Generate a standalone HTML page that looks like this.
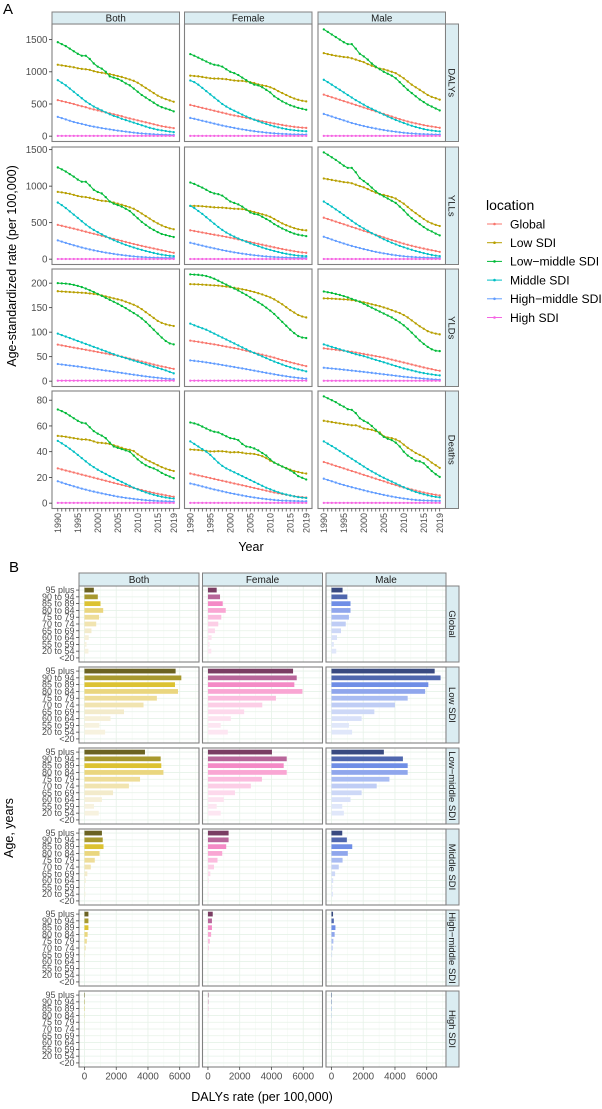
<!DOCTYPE html>
<html><head><meta charset="utf-8"><style>
html,body{margin:0;padding:0;background:#fff;}
svg{display:block;font-family:"Liberation Sans",Arial,sans-serif;}
</style></head><body>
<svg id="chart" xmlns="http://www.w3.org/2000/svg" width="602" height="1109" viewBox="0 0 602 1109">
<rect x="0" y="0" width="602" height="1109" fill="#fff"/>
<text x="3" y="14" font-size="15" fill="#000">A</text>
<text x="9" y="572" font-size="15" fill="#000">B</text>
<text transform="translate(16,266) rotate(-90)" text-anchor="middle" font-size="12.5" fill="#000">Age-standardized rate (per 100,000)</text>
<text x="251" y="551" text-anchor="middle" font-size="12.5" fill="#000">Year</text>
<text transform="translate(13,828) rotate(-90)" text-anchor="middle" font-size="12.5" fill="#000">Age, years</text>
<text x="262" y="1101" text-anchor="middle" font-size="12.5" fill="#000">DALYs rate (per 100,000)</text>
<g id="gA"></g><g id="gB"></g><g id="legend"></g>
</svg>
<script>
const years = [1990,1991,1992,1993,1994,1995,1996,1997,1998,1999,2000,2001,2002,2003,2004,2005,2006,2007,2008,2009,2010,2011,2012,2013,2014,2015,2016,2017,2018,2019];
const locations = ['Global','Low SDI','Low\u2212middle SDI','Middle SDI','High\u2212middle SDI','High SDI'];
const sexes = ['Both','Female','Male'];
const measures = ['DALYs','YLLs','YLDs','Deaths'];
const yTickLabels = [[0,500,1000,1500],[0,500,1000,1500],[0,50,100,150,200],[0,20,40,60,80]];
const yearTickLabels = [1990,1995,2000,2005,2010,2015,2019];

// DALYs
const DALYs_Both_Global = [560,545,530,515,500,480,465,450,430,415,400,385,370,355,340,325,310,290,275,260,245,230,215,200,185,170,155,145,135,125];
const DALYs_Both_Low = [1110,1100,1090,1080,1070,1055,1045,1040,1030,1010,995,985,975,965,950,935,920,900,880,860,830,790,750,710,670,630,600,575,555,535];
const DALYs_Both_LowMid = [1460,1430,1400,1360,1320,1280,1250,1250,1200,1130,1080,1050,1000,930,910,890,860,820,790,740,690,640,600,560,520,480,450,430,410,385];
const DALYs_Both_Mid = [870,830,790,740,690,640,590,540,500,460,430,400,370,340,315,295,270,250,230,210,190,170,150,130,115,100,90,80,70,62];
const DALYs_Both_HighMid = [300,280,260,240,220,205,190,175,160,148,136,125,115,105,95,86,78,70,62,55,48,42,37,33,29,26,24,22,20,18];
const DALYs_Both_High = [5,5,5,5,5,5,5,5,5,5,5,5,5,5,5,5,5,5,5,5,5,5,5,5,5,5,5,5,5,5];
const DALYs_Female_Global = [485,470,455,440,425,410,395,380,365,350,335,322,310,298,285,272,258,245,232,220,208,196,185,174,163,153,145,138,132,128];
const DALYs_Female_Low = [940,935,930,920,910,900,895,895,890,885,875,865,860,860,850,840,825,805,790,780,760,735,700,670,640,610,585,565,550,540];
const DALYs_Female_LowMid = [1275,1250,1220,1190,1160,1130,1110,1100,1080,1040,1000,980,950,910,870,830,800,790,760,720,680,620,580,540,510,480,460,440,425,410];
const DALYs_Female_Mid = [865,840,800,750,700,650,600,550,500,460,425,395,365,335,305,280,255,232,210,190,170,152,136,122,110,100,92,85,80,76];
const DALYs_Female_HighMid = [283,270,255,240,225,210,195,180,165,152,140,128,116,105,95,86,77,69,62,55,49,44,40,36,33,30,28,27,26,25];
const DALYs_Female_High = [4,4,4,4,4,4,4,4,4,4,4,4,4,4,4,4,4,4,4,4,4,4,4,4,4,4,4,4,4,4];
const DALYs_Male_Global = [645,625,605,585,565,545,525,505,485,465,445,425,405,385,365,345,325,305,285,265,245,228,212,198,185,172,160,150,140,130];
const DALYs_Male_Low = [1290,1275,1262,1250,1240,1230,1225,1210,1190,1170,1150,1120,1095,1070,1050,1040,1020,1000,980,940,900,850,800,760,720,680,640,610,590,567];
const DALYs_Male_LowMid = [1660,1620,1580,1540,1500,1460,1430,1430,1360,1280,1240,1190,1130,1080,1040,1000,970,940,900,840,780,720,670,620,570,530,490,460,430,400];
const DALYs_Male_Mid = [876,840,800,760,720,680,640,600,560,525,490,455,425,395,365,335,305,278,252,228,205,182,162,143,126,110,98,88,80,74];
const DALYs_Male_HighMid = [345,325,305,285,265,245,225,205,188,172,157,143,130,118,106,95,85,76,68,60,53,47,42,38,34,31,29,27,26,25];
const DALYs_Male_High = [5,5,5,5,5,5,5,5,5,5,5,5,5,5,5,5,5,5,5,5,5,5,5,5,5,5,5,5,5,5];
// YLLs
const YLLs_Both_Global = [470,457,444,431,418,404,390,376,362,348,334,320,306,292,278,264,250,236,222,208,195,182,170,158,146,134,122,110,98,88];
const YLLs_Both_Low = [922,915,905,895,880,865,855,850,840,825,810,800,795,790,775,760,745,728,710,690,660,625,590,555,520,490,462,440,422,410];
const YLLs_Both_LowMid = [1256,1230,1200,1165,1130,1090,1060,1060,1010,950,920,900,850,790,760,740,720,690,660,610,560,510,470,430,400,370,345,330,315,303];
const YLLs_Both_Mid = [775,740,700,655,610,565,520,475,435,400,370,340,312,285,260,238,216,196,177,160,143,127,112,98,85,73,62,53,46,41];
const YLLs_Both_HighMid = [257,240,223,206,190,175,160,146,133,121,110,100,90,81,72,64,57,50,44,38,33,29,26,23,21,20,19,18,18,18];
const YLLs_Both_High = [2,2,2,2,2,2,2,2,2,2,2,2,2,2,2,2,2,2,2,2,2,2,2,2,2,2,2,2,2,2];
const YLLs_Female_Global = [395,385,375,365,355,345,335,325,315,305,295,283,271,259,247,235,222,210,198,186,174,162,150,139,128,118,108,99,92,87];
const YLLs_Female_Low = [730,730,728,725,720,715,710,708,705,700,695,690,688,685,675,660,645,630,615,600,580,550,520,490,465,445,425,410,400,395];
const YLLs_Female_LowMid = [1050,1030,1005,980,950,920,900,890,870,830,790,770,750,720,680,640,620,610,580,550,520,480,450,420,395,370,350,335,325,316];
const YLLs_Female_Mid = [730,700,660,620,575,530,485,440,400,365,335,308,283,260,238,217,197,178,160,143,127,112,98,85,74,64,55,48,44,41];
const YLLs_Female_HighMid = [225,212,198,185,172,160,148,136,124,113,103,93,84,76,68,61,54,48,42,37,33,29,26,24,22,20,19,18,18,18];
const YLLs_Female_High = [2,2,2,2,2,2,2,2,2,2,2,2,2,2,2,2,2,2,2,2,2,2,2,2,2,2,2,2,2,2];
const YLLs_Male_Global = [568,550,532,514,496,478,460,442,424,406,388,370,352,334,316,298,280,262,245,228,212,197,183,170,157,145,133,122,111,100];
const YLLs_Male_Low = [1105,1095,1085,1075,1065,1055,1050,1040,1020,1000,985,960,935,910,890,880,865,850,830,795,760,715,670,630,590,550,515,490,470,454];
const YLLs_Male_LowMid = [1463,1430,1395,1360,1320,1280,1250,1250,1190,1110,1070,1030,980,930,890,860,830,800,770,720,670,610,560,520,480,440,405,380,350,326];
const YLLs_Male_Mid = [789,755,720,682,645,605,565,525,487,452,420,388,357,328,300,273,248,225,203,182,163,145,128,112,97,83,70,58,48,41];
const YLLs_Male_HighMid = [307,288,269,250,232,214,197,181,166,152,138,125,112,100,89,79,70,61,53,46,40,35,31,27,24,22,20,19,18,18];
const YLLs_Male_High = [2,2,2,2,2,2,2,2,2,2,2,2,2,2,2,2,2,2,2,2,2,2,2,2,2,2,2,2,2,2];
// YLDs
const YLDs_Both_Global = [74.5,73,71.5,70,68.5,67,65.5,64,62.5,61,59.5,58,56.5,55,53.5,52,50,48,46,44,42,40,38,36,34,32,30,28.5,26.5,25];
const YLDs_Both_Low = [183.6,183,182.5,182,181.5,181,180.5,180,179,178,177,175,173,171,169,167,165,162,159,156,152,147,141,135,129,123,119,116,114,112.6];
const YLDs_Both_LowMid = [200,199.5,199,198,196.5,194.5,192,189,185.5,182,178,174,170,166,162,158,153.5,149,144,139,134,128,121,113,105,97,89,82,77,75];
const YLDs_Both_Mid = [97,94,91,88,85,82,79,76,73,70,67,64,61,58,55,52,49.5,47,44.5,42,39.5,37,34.5,32,29.5,27,24.5,22,19,16];
const YLDs_Both_HighMid = [35,34,33,32,31,30,28.8,27.6,26.4,25.2,24,22.8,21.6,20.4,19.2,18,16.8,15.6,14.4,13.2,12,10.9,9.8,8.8,7.8,6.9,6,5.2,4.5,4];
const YLDs_Both_High = [1,1,1,1,1,1,1,1,1,1,1,1,1,1,1,1,1,1,1,1,1,1,1,1,1,1,1,1,1,1];
const YLDs_Female_Global = [82.7,81.5,80.3,79,77.7,76.3,75,73.5,72,70.5,69,67.5,66,64,62,60,58,56,54,52,50,48,45.5,43,41,38.5,36.5,34.5,32.5,30.7];
const YLDs_Female_Low = [198,197.8,197.5,197,196.5,196,195.5,195,194,193,192,190.5,189,187.5,186,184,182,179.5,177,174,171,167,162,157,151,145,140,135,132,130];
const YLDs_Female_LowMid = [218,217.5,217,216,214.5,212,209,205,201,197,193,189,185,180.5,176,171,166,161,156,150,144,137,129,121,113,105,98,92,89,88];
const YLDs_Female_Mid = [117.5,114,111,108,105,101,97,93,89,85,81,77,73,69,65,61,57.5,54,50.5,47,43.5,40,37,34,31,28.5,26,24,22,20];
const YLDs_Female_HighMid = [42.4,41.5,40.5,39.5,38.3,37,35.7,34.4,33,31.6,30.2,28.8,27.4,26,24.6,23,21.5,20,18.5,17,15.5,14,12.6,11.2,10,8.8,7.7,6.7,5.8,5];
const YLDs_Female_High = [1,1,1,1,1,1,1,1,1,1,1,1,1,1,1,1,1,1,1,1,1,1,1,1,1,1,1,1,1,1];
const YLDs_Male_Global = [67,66,65,64,63,62,61,60,58.5,57,55.5,54,52.5,51,49.5,48,46,44,42,40,38,36,34,32,30,28,26,24.5,22.5,21.3];
const YLDs_Male_Low = [169,168.8,168.5,168,167.5,167,166.5,165.5,164,162.5,161,159,157,155,153,150.5,148,145,142,139,135,130,124,118,112,107,102,99,97,95.6];
const YLDs_Male_LowMid = [183,181.5,180,178,176,173.5,171,168,165,162,158,154,150,146,142,138,134,130,125,120,114,107,99,91,83,76,70,65,62,61.4];
const YLDs_Male_Mid = [75,72.5,70,67.5,65,62.5,60,57.5,55,53,51,48.5,46,43.5,41,38.5,36,33.5,31,28.5,26,24,22,20,18,16.5,15,13.8,12.6,11.7];
const YLDs_Male_HighMid = [27.4,26.6,25.8,25,24.2,23.4,22.5,21.6,20.7,19.8,18.9,18,17,16,15,14,13,12,11,10,9,8.2,7.4,6.6,5.9,5.2,4.5,3.9,3.4,2.9];
const YLDs_Male_High = [0.8,0.8,0.8,0.8,0.8,0.8,0.8,0.8,0.8,0.8,0.8,0.8,0.8,0.8,0.8,0.8,0.8,0.8,0.8,0.8,0.8,0.8,0.8,0.8,0.8,0.8,0.8,0.8,0.8,0.8];
// Deaths
const Deaths_Both_Global = [27,26.2,25.4,24.6,23.8,23,22.2,21.4,20.6,19.8,19,18.2,17.4,16.6,15.8,15,14.2,13.4,12.6,11.8,11,10.2,9.4,8.7,8,7.3,6.7,6.1,5.5,5];
const Deaths_Both_Low = [52.3,52,51.6,51,50.5,50,49.5,49.5,49,48,47,46.8,46.5,46,45,44,43,42,41.5,40.5,38,36,34,32.5,31,29.5,28,26.8,25.8,25];
const Deaths_Both_LowMid = [72.8,71.5,70,68,66,64,62.5,62,59,56,54,52.5,50.5,47,44,43,42,41,40,37,34,31.5,29.5,28,27,25.5,23.5,22,20.7,19.4];
const Deaths_Both_Mid = [48.4,46.5,44.5,42.3,40,37.5,35,32.5,30,28,26,24.3,22.7,21,19.5,18,16.5,15,13.5,12,10.7,9.5,8.4,7.4,6.5,5.7,5,4.4,3.9,3.6];
const Deaths_Both_HighMid = [17,16,15,14,13.1,12.2,11.3,10.5,9.7,9,8.3,7.6,6.9,6.3,5.7,5.1,4.6,4.1,3.7,3.3,2.9,2.6,2.3,2.1,1.9,1.7,1.6,1.5,1.4,1.3];
const Deaths_Both_High = [0.2,0.2,0.2,0.2,0.2,0.2,0.2,0.2,0.2,0.2,0.2,0.2,0.2,0.2,0.2,0.2,0.2,0.2,0.2,0.2,0.2,0.2,0.2,0.2,0.2,0.2,0.2,0.2,0.2,0.2];
const Deaths_Female_Global = [23,22.3,21.6,20.9,20.2,19.5,18.8,18.1,17.4,16.7,16,15.3,14.6,13.9,13.2,12.5,11.8,11.1,10.4,9.7,9,8.3,7.7,7.1,6.5,5.9,5.4,5,4.7,4.4];
const Deaths_Female_Low = [41.7,41.5,41.3,41,40.6,40.2,40.2,40.4,40.3,40,39.5,39.6,39.6,39.2,38.6,38.5,38.2,37.5,36.5,35,33,31.5,30,28.5,27.3,26,25,24.2,23.5,23];
const Deaths_Female_LowMid = [62.7,62,61,59.5,58,56.5,55.5,55,53.5,52,50.5,50,49,46,44,43.5,42.5,41,39,37,34,31.5,30,28.5,27,25.5,23.5,21,19.7,18.4];
const Deaths_Female_Mid = [48,46,44,42,40,37.5,34.5,31.5,29,27,25.5,24,22.5,21,19.5,18,16.5,15,13.5,12,10.8,9.6,8.5,7.5,6.7,6,5.3,4.7,4.3,4];
const Deaths_Female_HighMid = [15.3,14.6,13.8,13,12.2,11.4,10.6,9.9,9.2,8.5,7.8,7.2,6.6,6,5.4,4.9,4.4,3.9,3.5,3.1,2.8,2.5,2.2,2,1.9,1.8,1.7,1.6,1.5,1.5];
const Deaths_Female_High = [0.2,0.2,0.2,0.2,0.2,0.2,0.2,0.2,0.2,0.2,0.2,0.2,0.2,0.2,0.2,0.2,0.2,0.2,0.2,0.2,0.2,0.2,0.2,0.2,0.2,0.2,0.2,0.2,0.2,0.2];
const Deaths_Male_Global = [32,31,30,29,28,27,26,25,24,23,22,21,20,19,18,17,16,15,14,13,12.2,11.4,10.6,9.8,9,8.3,7.6,7,6.5,6];
const Deaths_Male_Low = [64,63.5,63,62.5,62,61.5,61,60.5,60.5,59.5,58,57.5,57,56,55,52,51,50.5,49.5,48,45.5,43,41,39,37.5,36,34,31.5,29.5,27.4];
const Deaths_Male_LowMid = [83,81.5,80,78.5,76.5,75,73,72.5,70,66,64,62.5,60,57,54,51.5,50,49,47,44,40,37,35,33,32.5,31,28,25,22.5,20.4];
const Deaths_Male_Mid = [48,46.2,44.4,42.5,40.5,38.5,36.5,34.5,32.5,30.5,28.5,26.5,24.7,23,21.3,19.7,18.2,16.8,15.3,13.8,12.4,11,9.8,8.7,7.7,6.9,6.1,5.4,4.9,4.5];
const Deaths_Male_HighMid = [19,18,17,16,15,14.1,13.2,12.4,11.6,10.8,10,9.2,8.5,7.8,7.1,6.4,5.8,5.2,4.6,4.1,3.6,3.2,2.8,2.5,2.3,2.1,2,1.9,1.8,1.8];
const Deaths_Male_High = [0.2,0.2,0.2,0.2,0.2,0.2,0.2,0.2,0.2,0.2,0.2,0.2,0.2,0.2,0.2,0.2,0.2,0.2,0.2,0.2,0.2,0.2,0.2,0.2,0.2,0.2,0.2,0.2,0.2,0.2];

// Panel B
const ageGroups = ['95 plus','90 to 94','85 to 89','80 to 84','75 to 79','70 to 74','65 to 69','60 to 64','55 to 59','20 to 54','<20'];
const bLocations = ['Global','Low SDI','Low\u2212middle SDI','Middle SDI','High\u2212middle SDI','High SDI'];
const xTickLabelsB = [0,2000,4000,6000];
const B_Global_Both = [590,840,1010,1180,920,740,440,270,130,250,0];
const B_Global_Female = [550,760,930,1120,840,650,440,230,100,210,0];
const B_Global_Male = [700,1000,1200,1200,1100,900,600,350,150,300,0];
const B_Low_Both = [5740,6100,5700,5890,4560,3720,2490,1640,940,1300,0];
const B_Low_Female = [5360,5590,5440,5950,4280,3420,2280,1440,800,1250,0];
const B_Low_Male = [6500,6870,6100,5900,4800,4000,2700,1900,1100,1300,0];
const B_LowMid_Both = [3810,4800,4840,4970,3500,2800,1800,1100,600,900,0];
const B_LowMid_Female = [4030,4960,4770,4960,3400,2700,1700,1000,550,800,0];
const B_LowMid_Male = [3300,4500,4800,4800,3650,2850,1900,1200,680,780,0];
const B_Mid_Both = [1100,1150,1200,950,650,400,180,80,40,60,0];
const B_Mid_Female = [1300,1300,1150,900,600,380,150,60,30,50,0];
const B_Mid_Male = [680,970,1310,1030,700,460,230,110,60,100,0];
const B_HighMid_Both = [250,250,250,200,150,80,40,15,8,10,0];
const B_HighMid_Female = [300,250,250,200,120,60,30,12,6,8,0];
const B_HighMid_Male = [100,150,250,200,120,80,40,15,8,10,0];
const B_High_Both = [30,25,20,15,10,8,5,3,2,2,0];
const B_High_Female = [30,25,20,15,10,8,5,3,2,2,0];
const B_High_Male = [30,25,20,15,10,8,5,3,2,2,0];

const NS='http://www.w3.org/2000/svg';
function mk(tag,parent){const e=document.createElementNS(NS,tag);parent.appendChild(e);return e;}
function attrs(e,o){for(const k in o)e.setAttribute(k,o[k]);return e;}

const seriesA = {
 DALYs:{Both:[DALYs_Both_Global,DALYs_Both_Low,DALYs_Both_LowMid,DALYs_Both_Mid,DALYs_Both_HighMid,DALYs_Both_High],
        Female:[DALYs_Female_Global,DALYs_Female_Low,DALYs_Female_LowMid,DALYs_Female_Mid,DALYs_Female_HighMid,DALYs_Female_High],
        Male:[DALYs_Male_Global,DALYs_Male_Low,DALYs_Male_LowMid,DALYs_Male_Mid,DALYs_Male_HighMid,DALYs_Male_High]},
 YLLs:{Both:[YLLs_Both_Global,YLLs_Both_Low,YLLs_Both_LowMid,YLLs_Both_Mid,YLLs_Both_HighMid,YLLs_Both_High],
        Female:[YLLs_Female_Global,YLLs_Female_Low,YLLs_Female_LowMid,YLLs_Female_Mid,YLLs_Female_HighMid,YLLs_Female_High],
        Male:[YLLs_Male_Global,YLLs_Male_Low,YLLs_Male_LowMid,YLLs_Male_Mid,YLLs_Male_HighMid,YLLs_Male_High]},
 YLDs:{Both:[YLDs_Both_Global,YLDs_Both_Low,YLDs_Both_LowMid,YLDs_Both_Mid,YLDs_Both_HighMid,YLDs_Both_High],
        Female:[YLDs_Female_Global,YLDs_Female_Low,YLDs_Female_LowMid,YLDs_Female_Mid,YLDs_Female_HighMid,YLDs_Female_High],
        Male:[YLDs_Male_Global,YLDs_Male_Low,YLDs_Male_LowMid,YLDs_Male_Mid,YLDs_Male_HighMid,YLDs_Male_High]},
 Deaths:{Both:[Deaths_Both_Global,Deaths_Both_Low,Deaths_Both_LowMid,Deaths_Both_Mid,Deaths_Both_HighMid,Deaths_Both_High],
        Female:[Deaths_Female_Global,Deaths_Female_Low,Deaths_Female_LowMid,Deaths_Female_Mid,Deaths_Female_HighMid,Deaths_Female_High],
        Male:[Deaths_Male_Global,Deaths_Male_Low,Deaths_Male_LowMid,Deaths_Male_Mid,Deaths_Male_HighMid,Deaths_Male_High]}
};
const colorsA = ['#F8766D','#B79F00','#00BA38','#00BFC4','#619CFF','#F564E3'];

// ---------- Panel A ----------
const gA=document.getElementById('gA');
const colX=[52,184.5,318], PW=127.5, rowY=[24,147,269,391], PH=117.5;
measures.forEach((m,r)=>{
  let mx=0; sexes.forEach(s=>seriesA[m][s].forEach(a=>a.forEach(v=>{if(v>mx)mx=v;})));
  const lo=-0.05*mx, hi=1.05*mx;
  sexes.forEach((s,c)=>{
    const px=colX[c], py=rowY[r];
    const xs=yr=>px+(yr-1990+1.45)/31.9*PW;
    const ys=v=>py+PH-(v-lo)/(hi-lo)*PH;
    const g=mk('g',gA);
    
    
    const bg=mk('rect',g); attrs(bg,{x:px,y:py,width:PW,height:PH,fill:'#fff'});
    seriesA[m][s].forEach((arr,li)=>{
      const pl=mk('polyline',g);
      
      
      attrs(pl,{points:arr.map((v,i)=>xs(years[i]).toFixed(2)+','+ys(v).toFixed(2)).join(' '),fill:'none',stroke:colorsA[li],'stroke-width':1});
      arr.forEach((v,i)=>{
        const cc=mk('circle',g);
        
        
        attrs(cc,{cx:xs(years[i]).toFixed(2),cy:ys(v).toFixed(2),r:1.15,fill:colorsA[li]});
      });
    });
    const br=mk('rect',g); attrs(br,{x:px,y:py,width:PW,height:PH,fill:'none',stroke:'#808080','stroke-width':1.1});
    if(c===0){
      yTickLabels[r].forEach(t=>{
        const y=ys(t);
        const tl=mk('line',g); attrs(tl,{x1:px-3,x2:px,y1:y,y2:y,stroke:'#333','stroke-width':0.8});
        const tx=mk('text',g);
        
        
        attrs(tx,{x:px-4.5,y:y+3.4,'text-anchor':'end','font-size':9.8,fill:'#4d4d4d'}); tx.textContent=t;
      });
    }
    if(r===3){
      years.forEach(yr=>{const tl=mk('line',g); attrs(tl,{x1:xs(yr),x2:xs(yr),y1:py+PH,y2:py+PH+3,stroke:'#333','stroke-width':0.7});});
      yearTickLabels.forEach(yr=>{
        const tx=mk('text',g);
        
        
        attrs(tx,{transform:`translate(${xs(yr)+3.2},${py+PH+4.5}) rotate(-90)`,'text-anchor':'end','font-size':9,fill:'#4d4d4d'}); tx.textContent=yr;
      });
    }
    if(r===0){
      const sr=mk('rect',g);
      
      
      attrs(sr,{x:px,y:12,width:PW,height:12,fill:'#dbedf2',stroke:'#808080','stroke-width':1});
      const st=mk('text',g); attrs(st,{x:px+PW/2,y:21.5,'text-anchor':'middle','font-size':9.8,fill:'#1a1a1a'}); st.textContent=s;
    }
    if(c===2){
      const sr=mk('rect',g);
      
      
      attrs(sr,{x:px+PW,y:py,width:13,height:PH,fill:'#dbedf2',stroke:'#808080','stroke-width':1});
      const st=mk('text',g); attrs(st,{transform:`translate(${px+PW+3.2},${py+PH/2}) rotate(90)`,'text-anchor':'middle','font-size':9.5,fill:'#1a1a1a'}); st.textContent=m;
    }
  });
});

// Legend
const lg=document.getElementById('legend');
const lt=mk('text',lg); attrs(lt,{x:486,y:210,'font-size':14,fill:'#000'}); lt.textContent='location';
locations.forEach((n,i)=>{
  const y=224+i*18.7;
  const e=mk('g',lg);
  
  
  const l=mk('line',e); attrs(l,{x1:487,x2:502,y1:y,y2:y,stroke:colorsA[i],'stroke-width':1});
  const p=mk('circle',e); attrs(p,{cx:494.5,cy:y,r:1.3,fill:colorsA[i]});
  const t=mk('text',e); attrs(t,{x:510,y:y+4.3,'font-size':12.2,fill:'#000'}); t.textContent=n;
});

// ---------- Panel B ----------
const seriesB = [
 [B_Global_Both,B_Global_Female,B_Global_Male],
 [B_Low_Both,B_Low_Female,B_Low_Male],
 [B_LowMid_Both,B_LowMid_Female,B_LowMid_Male],
 [B_Mid_Both,B_Mid_Female,B_Mid_Male],
 [B_HighMid_Both,B_HighMid_Female,B_HighMid_Male],
 [B_High_Both,B_High_Female,B_High_Male]
];
const colorsB = [
 ['#6b6222','#a8992f','#dcc232','#ead67e','#eedd98','#f1e4b0','#f3ebcb','#f6f0d8','#f7f2df','#f7f2df','#faf7ee'],
 ['#7a3d63','#b8669a','#f48ac6','#f9a6d3','#fbbcde','#fccee6','#fdd9ec','#fde2f0','#fde6f2','#fde6f2','#fef0f6'],
 ['#394a80','#4f67ae','#6f8ee6','#8fa6ec','#a9bcf2','#bfcdf5','#cdd8f7','#d9e1f9','#e0e7fa','#e0e7fa','#eef2fc']
];
const gB=document.getElementById('gB');
const bColX=[79,202.5,326], BW=120, bRowY=[586,667,748,829,910,991], BH=76;
let bMax=0; seriesB.forEach(r=>r.forEach(a=>a.forEach(v=>{if(v>bMax)bMax=v;})));
const bLo=-0.05*bMax, bHi=1.05*bMax;
const nCat=ageGroups.length, catStep=BH/(nCat-1+1.2);
seriesB.forEach((row,r)=>{
  row.forEach((arr,c)=>{
    const px=bColX[c], py=bRowY[r];
    const xs=v=>px+(v-bLo)/(bHi-bLo)*BW;
    const yc=i=>py+(0.6+i)*catStep;
    const g=mk('g',gB);
    
    
    const bg=mk('rect',g); attrs(bg,{x:px,y:py,width:BW,height:BH,fill:'#fff'});
    [1000,3000,5000,7000].forEach(t=>{const l=mk('line',g); attrs(l,{x1:xs(t),x2:xs(t),y1:py,y2:py+BH,stroke:'#f2f8f2','stroke-width':0.5});});
    xTickLabelsB.forEach(t=>{const l=mk('line',g); attrs(l,{x1:xs(t),x2:xs(t),y1:py,y2:py+BH,stroke:'#e6f2e8','stroke-width':0.8});});
    ageGroups.forEach((a,i)=>{const l=mk('line',g); attrs(l,{x1:px,x2:px+BW,y1:yc(i),y2:yc(i),stroke:'#e6f2e8','stroke-width':0.8});});
    arr.forEach((v,i)=>{
      const b=mk('rect',g);
      
      
      const x0=xs(0), x1=xs(v), h=catStep*0.7;
      attrs(b,{x:Math.min(x0,x1),y:yc(i)-h/2,width:Math.abs(x1-x0),height:h,fill:colorsB[c][i]});
    });
    const br=mk('rect',g); attrs(br,{x:px,y:py,width:BW,height:BH,fill:'none',stroke:'#808080','stroke-width':1.1});
    if(c===0){
      ageGroups.forEach((a,i)=>{
        const l=mk('line',g); attrs(l,{x1:px-3,x2:px,y1:yc(i),y2:yc(i),stroke:'#333','stroke-width':0.7});
        const t=mk('text',g);
        
        
        attrs(t,{x:px-4.5,y:yc(i)+3,'text-anchor':'end','font-size':9,fill:'#4d4d4d'}); t.textContent=a;
      });
    }
    if(r===5){
      xTickLabelsB.forEach(tv=>{
        const l=mk('line',g); attrs(l,{x1:xs(tv),x2:xs(tv),y1:py+BH,y2:py+BH+3,stroke:'#333','stroke-width':0.7});
        const t=mk('text',g);
        
        
        attrs(t,{x:xs(tv),y:py+BH+12.5,'text-anchor':'middle','font-size':9.8,fill:'#4d4d4d'}); t.textContent=tv;
      });
    }
    if(r===0){
      const sr=mk('rect',g);
      
      
      attrs(sr,{x:px,y:573,width:BW,height:13,fill:'#dbedf2',stroke:'#808080','stroke-width':1});
      const st=mk('text',g); attrs(st,{x:px+BW/2,y:583,'text-anchor':'middle','font-size':10,fill:'#1a1a1a'}); st.textContent=sexes[c];
    }
    if(c===2){
      const sr=mk('rect',g);
      
      
      attrs(sr,{x:px+BW,y:py,width:13,height:BH,fill:'#dbedf2',stroke:'#808080','stroke-width':1});
      const st=mk('text',g); attrs(st,{transform:`translate(${px+BW+3.2},${py+BH/2}) rotate(90)`,'text-anchor':'middle','font-size':9.5,fill:'#1a1a1a'}); st.textContent=bLocations[r];
    }
  });
});
</script>
</body></html>
